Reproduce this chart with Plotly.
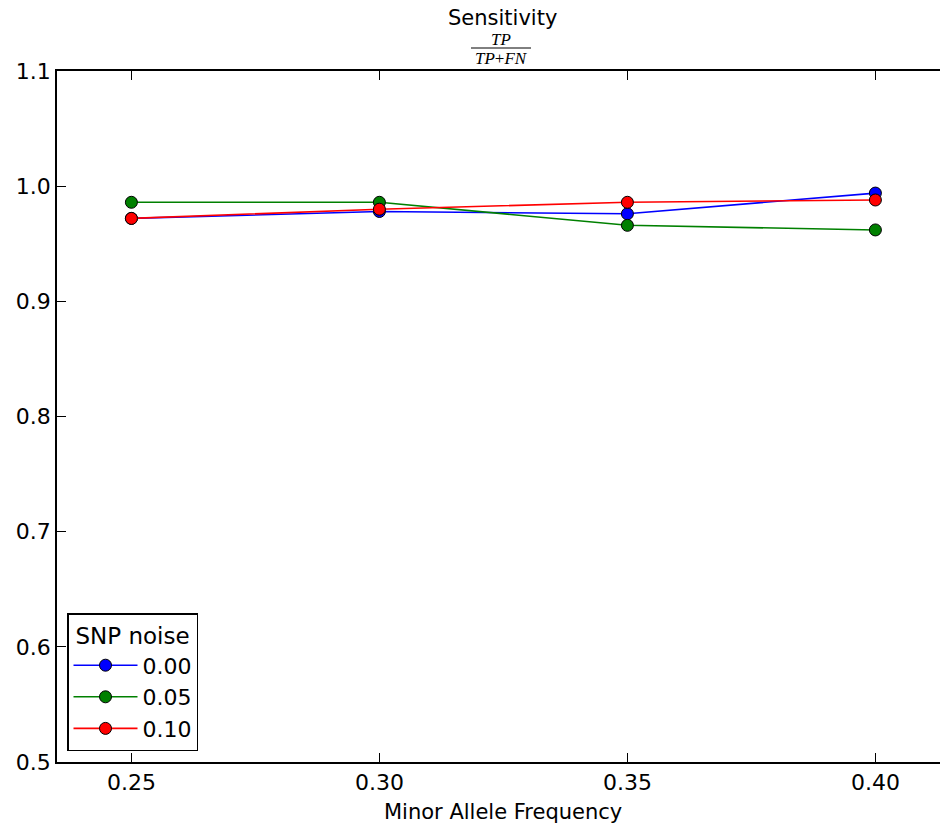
import plotly.graph_objects as go

# Minor allele frequencies on the x axis
maf = [0.25, 0.30, 0.35, 0.40]

# Sensitivity per SNP-noise level
noise_labels = ["0.00", "0.05", "0.10"]
sens_000 = [0.972, 0.978, 0.976, 0.994]
sens_005 = [0.986, 0.986, 0.966, 0.962]
sens_010 = [0.972, 0.980, 0.986, 0.988]

y_ticks = [0.5, 0.6, 0.7, 0.8, 0.9, 1.0, 1.1]

series = [
    (noise_labels[0], sens_000, "#0000ff"),
    (noise_labels[1], sens_005, "#008000"),
    (noise_labels[2], sens_010, "#ff0000"),
]

W, H = 941, 828
ML, MR, MT, MB = 57, 1, 71, 66
plot_w = W - ML - MR
plot_h = H - MT - MB


def px_to_paper_x(px):
    return (px - ML) / plot_w


def px_to_paper_y(py):
    return (H - MB - py) / plot_h


fig = go.Figure()
for name, vals, color in series:
    fig.add_trace(go.Scatter(
        x=maf, y=vals, name=name, mode="lines+markers",
        line=dict(color=color, width=1.6),
        marker=dict(size=12, color=color, line=dict(color="black", width=1)),
    ))

font_main = "DejaVu Sans, sans-serif"
axis_common = dict(
    showline=True, linecolor="black", linewidth=1.5,
    ticks="inside", ticklen=9, tickwidth=1, tickcolor="black",
    showgrid=False, zeroline=False,
    tickfont=dict(family=font_main, size=22, color="black"),
)

fig.update_layout(
    width=W, height=H,
    margin=dict(l=ML, r=MR, t=MT, b=MB),
    paper_bgcolor="white", plot_bgcolor="white",
    font=dict(family=font_main, color="black"),
    xaxis=dict(
        range=[0.235, 0.235 + plot_w / 248 * 0.05],
        tickvals=maf, tickformat=".2f", mirror="allticks",
        **axis_common,
    ),
    yaxis=dict(
        range=[0.5, 1.1], tickvals=y_ticks, tickformat=".1f", mirror=False,
        **axis_common,
    ),
    legend=dict(
        title=dict(text="SNP noise", side="top center",
                   font=dict(family=font_main, size=23)),
        font=dict(family=font_main, size=22),
        bordercolor="black", borderwidth=1.5, bgcolor="white",
        x=px_to_paper_x(67), y=px_to_paper_y(751),
        xanchor="left", yanchor="bottom",
        itemwidth=64,
    ),
    showlegend=True,
)

# Title, the fraction TP / (TP+FN) and the x-axis label
fig.add_annotation(text="Sensitivity", xref="paper", yref="paper",
                   x=px_to_paper_x(502), y=px_to_paper_y(18),
                   showarrow=False, xanchor="center", yanchor="middle",
                   font=dict(family=font_main, size=21, color="black"))
fig.add_annotation(text="<i>TP</i>", xref="paper", yref="paper",
                   x=px_to_paper_x(501), y=px_to_paper_y(40),
                   showarrow=False, xanchor="center", yanchor="middle",
                   font=dict(family="Liberation Serif, serif", size=17, color="black"))
fig.add_annotation(text="<i>TP</i>+<i>FN</i>", xref="paper", yref="paper",
                   x=px_to_paper_x(501), y=px_to_paper_y(58),
                   showarrow=False, xanchor="center", yanchor="middle",
                   font=dict(family="Liberation Serif, serif", size=17, color="black"))
fig.add_shape(type="line", xref="paper", yref="paper",
              x0=px_to_paper_x(471), x1=px_to_paper_x(531),
              y0=px_to_paper_y(48), y1=px_to_paper_y(48),
              line=dict(color="black", width=1))
fig.add_annotation(text="Minor Allele Frequency", xref="paper", yref="paper",
                   x=px_to_paper_x(503), y=px_to_paper_y(812),
                   showarrow=False, xanchor="center", yanchor="middle",
                   font=dict(family=font_main, size=21, color="black"))

fig.write_html("out.html")
